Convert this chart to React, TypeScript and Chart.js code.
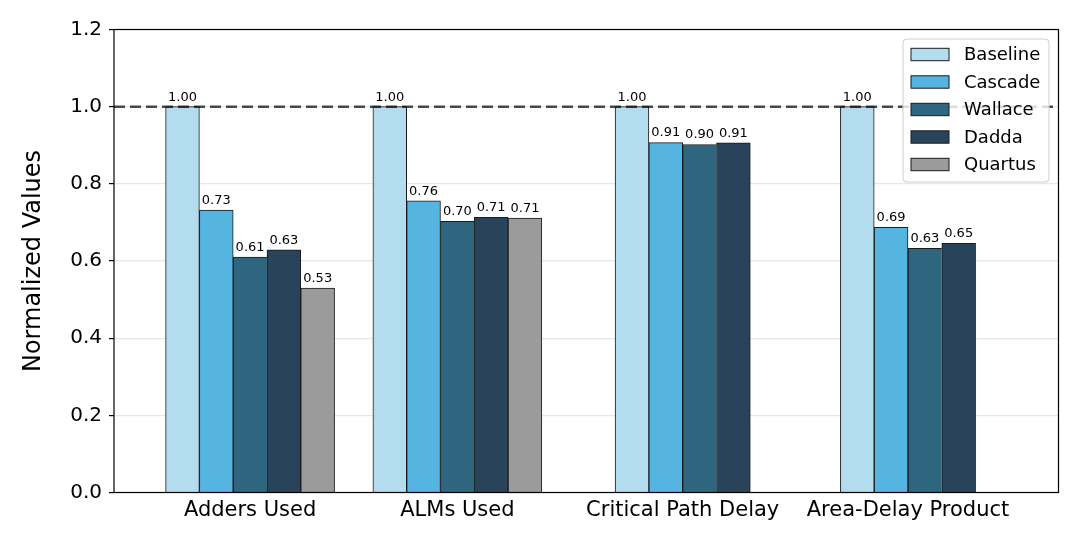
import { useEffect, useRef } from 'react';
import { Chart, registerables } from 'chart.js';

Chart.register(...registerables);

const FONT = "'DejaVu Sans', 'Liberation Sans', sans-serif";

const CATEGORIES = ['Adders Used', 'ALMs Used', 'Critical Path Delay', 'Area-Delay Product'];
const CATEGORY_POS = [0.08, 1, 2, 3];
const SERIES = ['Baseline', 'Cascade', 'Wallace', 'Dadda', 'Quartus'];
const BASELINE = [1.0, 1.0, 1.0, 1.0];
const CASCADE = [0.732, 0.756, 0.907, 0.687];
const WALLACE = [0.61, 0.703, 0.902, 0.633];
const DADDA = [0.629, 0.713, 0.906, 0.646];
const QUARTUS: (number | null)[] = [0.53, 0.711, null, null];
const Y_MIN = 0;
const Y_MAX = 1.2;
const Y_STEP = 0.2;
const REF_LINE = 1.0;

const COLORS = ['#b3dcee', '#56b4e0', '#2e6680', '#29445a', '#9b9b9b'];
const EDGE = '#1a1a1a';
const BAR_W = 0.15;
const X_MIN = -0.524;
const X_MAX = 3.668;

export default function App() {
  const ref = useRef<HTMLCanvasElement>(null);

  useEffect(() => {
    if (!ref.current) return;
    const seriesValues: (number | null)[][] = [BASELINE, CASCADE, WALLACE, DADDA, QUARTUS];

    const datasets = SERIES.map((name, i) => {
      const data: any[] = [];
      CATEGORIES.forEach((_, g) => {
        const v = seriesValues[i][g];
        if (v == null) return;
        const present = seriesValues
          .map((s, k) => (s[g] != null ? k : -1))
          .filter((k) => k >= 0);
        const rank = present.indexOf(i);
        const isLast = rank === present.length - 1;
        const nextVal = isLast ? null : (seriesValues[present[rank + 1]][g] as number);
        data.push({
          x: CATEGORY_POS[g] + (rank - (present.length - 1) / 2) * BAR_W,
          y: v,
          rightEdge: isLast || (nextVal != null && v > nextVal),
        });
      });
      return {
        label: name,
        data,
        backgroundColor: COLORS[i],
        borderColor: EDGE,
        borderWidth: (c: any) => ({ left: 1, top: 1, bottom: 0, right: c.raw && c.raw.rightEdge ? 1 : 0 }),
        borderSkipped: 'start' as const,
        grouped: false,
        barPercentage: 1,
        categoryPercentage: 1,
      };
    });

    const overlay = {
      id: 'overlay',
      afterDatasetsDraw(chart: any) {
        const ctx = chart.ctx as CanvasRenderingContext2D;
        const { left, right, top, bottom } = chart.chartArea;
        ctx.save();
        // value labels
        ctx.font = `13px ${FONT}`;
        ctx.fillStyle = '#000';
        ctx.textAlign = 'center';
        ctx.textBaseline = 'bottom';
        chart.data.datasets.forEach((ds: any, i: number) => {
          const meta = chart.getDatasetMeta(i);
          meta.data.forEach((el: any, j: number) => {
            const v = ds.data[j].y as number;
            ctx.fillText(v.toFixed(2), el.x, el.y - 3);
          });
        });
        // reference line
        const yRef = chart.scales.y.getPixelForValue(REF_LINE);
        ctx.strokeStyle = 'rgba(0,0,0,0.7)';
        ctx.lineWidth = 2.5;
        ctx.setLineDash([11, 5]);
        ctx.beginPath();
        ctx.moveTo(left, yRef);
        ctx.lineTo(right, yRef);
        ctx.stroke();
        ctx.setLineDash([]);
        // frame
        ctx.strokeStyle = '#000';
        ctx.lineWidth = 1.2;
        ctx.strokeRect(left, top, right - left, bottom - top);
        // legend
        const bw = 146;
        const bh = 143;
        const bx = right - 9.5 - bw;
        const by = top + 9.5;
        ctx.beginPath();
        (ctx as any).roundRect(bx, by, bw, bh, 4);
        ctx.fillStyle = 'rgba(255,255,255,0.8)';
        ctx.fill();
        ctx.strokeStyle = '#cfcfcf';
        ctx.lineWidth = 1;
        ctx.stroke();
        ctx.font = `18px ${FONT}`;
        ctx.textAlign = 'left';
        ctx.textBaseline = 'middle';
        SERIES.forEach((name, i) => {
          const cy = by + 15.5 + i * 27.5;
          ctx.fillStyle = COLORS[i];
          ctx.fillRect(bx + 8, cy - 6.2, 38, 12.4);
          ctx.strokeStyle = EDGE;
          ctx.lineWidth = 1;
          ctx.strokeRect(bx + 8, cy - 6.2, 38, 12.4);
          ctx.fillStyle = '#000';
          ctx.fillText(name, bx + 61, cy + 1);
        });
        ctx.restore();
      },
    };

    const chart = new Chart(ref.current, {
      type: 'bar',
      data: { datasets: datasets as any },
      plugins: [overlay],
      options: {
        animation: false,
        responsive: false,
        devicePixelRatio: 1,
        layout: { padding: { left: 0, top: 29.5, right: 21.5, bottom: 0 } },
        plugins: {
          legend: { display: false },
          tooltip: { enabled: false },
        },
        scales: {
          x: {
            type: 'linear',
            min: X_MIN,
            max: X_MAX,
            offset: false,
            bounds: 'data',
            grid: { display: false, drawTicks: false },
            border: { display: false },
            afterBuildTicks: (scale: any) => {
              scale.ticks = CATEGORY_POS.map((v) => ({ value: v }));
            },
            afterFit: (scale: any) => {
              scale.height = 47.5;
            },
            ticks: {
              autoSkip: false,
              maxRotation: 0,
              padding: 5,
              color: '#000',
              font: { family: FONT, size: 21 },
              callback: (_v: any, i: number) => CATEGORIES[i],
            },
          },
          y: {
            type: 'linear',
            min: Y_MIN,
            max: Y_MAX,
            grid: {
              color: '#e6e6e6',
              lineWidth: 1.2,
              tickColor: '#000',
              tickLength: 5,
              tickWidth: 1.2,
            },
            border: { display: false },
            afterFit: (scale: any) => {
              scale.width = 114;
            },
            ticks: {
              stepSize: Y_STEP,
              padding: 7,
              color: '#000',
              font: { family: FONT, size: 20 },
              callback: (v: any) => Number(v).toFixed(1),
            },
            title: {
              display: true,
              text: 'Normalized Values',
              color: '#000',
              font: { family: FONT, size: 24 },
              padding: { top: 19, bottom: 0 },
            },
          },
        },
      },
    });
    return () => chart.destroy();
  }, []);

  return (
    <div style={{ position: 'fixed', left: 0, top: 0, width: 1080, height: 540, background: '#fff' }}>
      <canvas ref={ref} width={1080} height={540} style={{ display: 'block' }} />
    </div>
  );
}
